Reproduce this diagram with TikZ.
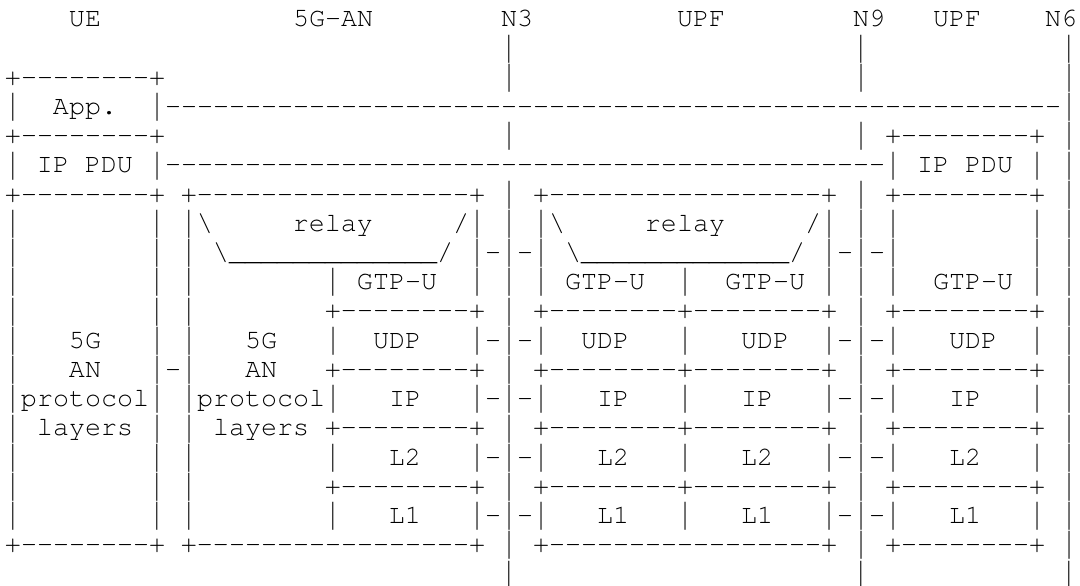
\documentclass[tikz,border=0pt]{standalone}
\usepackage{fontspec}
\usepackage{graphicx}
\setmonofont{texgyrecursor-regular.otf}
\newlength\cw
\setlength\cw{16pt}
\newcommand\gap[1]{\hspace*{#1\cw}}
\ExplSyntaxOn
\cs_new:Npn \rep #1#2 { \prg_replicate:nn {#1} {#2} }
\ExplSyntaxOff
\newcommand\bs{\textbackslash}
\newcommand\vb{\makebox[\cw][c]{\raisebox{-7pt}[0pt][0pt]{\resizebox{\width}{28pt}{\raisebox{\depth}{|}}}}}
\tikzset{asciirow/.style={anchor=base west, inner sep=0pt, outer sep=0pt,
  font=\ttfamily\fontsize{26.67pt}{29.2pt}\selectfont}}
\begin{document}
\begin{tikzpicture}[x=1pt,y=1pt]
\useasboundingbox (0,0) rectangle (1080,-586);
\def\rowy#1{-26.7-29.22*#1}
\node[asciirow] (r0) at (5,{\rowy{0}}) {\gap{4}UE\gap{12}5G-AN\gap{8}N3\gap{9}UPF\gap{8}N9\gap{3}UPF\gap{4}N6};
\node[asciirow] (r1) at (5,{\rowy{1}}) {\gap{31}\vb\gap{21}\vb\gap{12}\vb};
\node[asciirow] (r2) at (5,{\rowy{2}}) {+\rep{8}{-}+\gap{21}\vb\gap{21}\vb\gap{12}\vb};
\node[asciirow] (r3) at (5,{\rowy{3}}) {\vb\gap{2}App.\gap{2}\vb\rep{56}{-}\vb};
\node[asciirow] (r4) at (5,{\rowy{4}}) {+\rep{8}{-}+\gap{21}\vb\gap{21}\vb\gap{1}+\rep{8}{-}+\gap{1}\vb};
\node[asciirow] (r5) at (5,{\rowy{5}}) {\vb\gap{1}IP\gap{1}PDU\gap{1}\vb\rep{45}{-}\vb\gap{1}IP\gap{1}PDU\gap{1}\vb\gap{1}\vb};
\node[asciirow] (r6) at (5,{\rowy{6}}) {+\rep{8}{-}+\gap{1}+\rep{17}{-}+\gap{1}\vb\gap{1}+\rep{17}{-}+\gap{1}\vb\gap{1}+\rep{8}{-}+\gap{1}\vb};
\node[asciirow] (r7) at (5,{\rowy{7}}) {\vb\gap{8}\vb\gap{1}\vb\bs\gap{5}relay\gap{5}/\vb\gap{1}\vb\gap{1}\vb\bs\gap{5}relay\gap{5}/\vb\gap{1}\vb\gap{1}\vb\gap{8}\vb\gap{1}\vb};
\node[asciirow] (r8) at (5,{\rowy{8}}) {\vb\gap{8}\vb\gap{1}\vb\gap{1}\bs\rep{13}{\_}/\gap{1}\vb-\vb-\vb\gap{1}\bs\rep{13}{\_}/\gap{1}\vb-\vb-\vb\gap{8}\vb\gap{1}\vb};
\node[asciirow] (r9) at (5,{\rowy{9}}) {\vb\gap{8}\vb\gap{1}\vb\gap{8}\vb\gap{1}GTP-U\gap{2}\vb\gap{1}\vb\gap{1}\vb\gap{1}GTP-U\gap{2}\vb\gap{2}GTP-U\gap{1}\vb\gap{1}\vb\gap{1}\vb\gap{2}GTP-U\gap{1}\vb\gap{1}\vb};
\node[asciirow] (r10) at (5,{\rowy{10}}) {\vb\gap{8}\vb\gap{1}\vb\gap{8}+\rep{8}{-}+\gap{1}\vb\gap{1}+\rep{8}{-}+\rep{8}{-}+\gap{1}\vb\gap{1}+\rep{8}{-}+\gap{1}\vb};
\node[asciirow] (r11) at (5,{\rowy{11}}) {\vb\gap{3}5G\gap{3}\vb\gap{1}\vb\gap{3}5G\gap{3}\vb\gap{2}UDP\gap{3}\vb-\vb-\vb\gap{2}UDP\gap{3}\vb\gap{3}UDP\gap{2}\vb-\vb-\vb\gap{3}UDP\gap{2}\vb\gap{1}\vb};
\node[asciirow] (r12) at (5,{\rowy{12}}) {\vb\gap{3}AN\gap{3}\vb-\vb\gap{3}AN\gap{3}+\rep{8}{-}+\gap{1}\vb\gap{1}+\rep{8}{-}+\rep{8}{-}+\gap{1}\vb\gap{1}+\rep{8}{-}+\gap{1}\vb};
\node[asciirow] (r13) at (5,{\rowy{13}}) {\vb protocol\vb\gap{1}\vb protocol\vb\gap{3}IP\gap{3}\vb-\vb-\vb\gap{3}IP\gap{3}\vb\gap{3}IP\gap{3}\vb-\vb-\vb\gap{3}IP\gap{3}\vb\gap{1}\vb};
\node[asciirow] (r14) at (5,{\rowy{14}}) {\vb\gap{1}layers\gap{1}\vb\gap{1}\vb\gap{1}layers\gap{1}+\rep{8}{-}+\gap{1}\vb\gap{1}+\rep{8}{-}+\rep{8}{-}+\gap{1}\vb\gap{1}+\rep{8}{-}+\gap{1}\vb};
\node[asciirow] (r15) at (5,{\rowy{15}}) {\vb\gap{8}\vb\gap{1}\vb\gap{8}\vb\gap{3}L2\gap{3}\vb-\vb-\vb\gap{3}L2\gap{3}\vb\gap{3}L2\gap{3}\vb-\vb-\vb\gap{3}L2\gap{3}\vb\gap{1}\vb};
\node[asciirow] (r16) at (5,{\rowy{16}}) {\vb\gap{8}\vb\gap{1}\vb\gap{8}+\rep{8}{-}+\gap{1}\vb\gap{1}+\rep{8}{-}+\rep{8}{-}+\gap{1}\vb\gap{1}+\rep{8}{-}+\gap{1}\vb};
\node[asciirow] (r17) at (5,{\rowy{17}}) {\vb\gap{8}\vb\gap{1}\vb\gap{8}\vb\gap{3}L1\gap{3}\vb-\vb-\vb\gap{3}L1\gap{3}\vb\gap{3}L1\gap{3}\vb-\vb-\vb\gap{3}L1\gap{3}\vb\gap{1}\vb};
\node[asciirow] (r18) at (5,{\rowy{18}}) {+\rep{8}{-}+\gap{1}+\rep{17}{-}+\gap{1}\vb\gap{1}+\rep{17}{-}+\gap{1}\vb\gap{1}+\rep{8}{-}+\gap{1}\vb};
\node[asciirow] (r19) at (5,{\rowy{19}}) {\gap{31}\vb\gap{21}\vb\gap{12}\vb};
\end{tikzpicture}
\end{document}
